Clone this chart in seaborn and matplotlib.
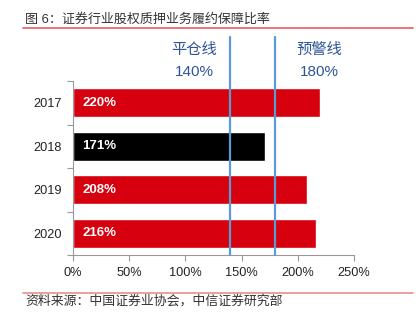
import matplotlib
matplotlib.use("Agg")
import matplotlib.pyplot as plt
import seaborn as sns
import pandas as pd
from matplotlib.lines import Line2D

# Data
years = ["2017", "2018", "2019", "2020"]
ratios = [220, 171, 208, 216]
bar_colors = ["#D7000F", "#000000", "#D7000F", "#D7000F"]
x_ticks = [0, 50, 100, 150, 200, 250]
ref_values = [140, 180]
ref_names = ["平仓线", "预警线"]

sns.set_theme(style="white")
plt.rcParams["font.family"] = ["Liberation Sans", "Noto Sans CJK SC", "DejaVu Sans"]

df = pd.DataFrame({"year": years, "ratio": ratios})

fig = plt.figure(figsize=(4.16, 3.22), dpi=100)
ax = fig.add_axes([73 / 416, 1 - 255 / 322, (354 - 73) / 416, (255 - 81) / 322])

sns.barplot(data=df, x="ratio", y="year", hue="year", palette=bar_colors,
            legend=False, width=0.667, ax=ax, orient="h", saturation=1)

ax.set_xlim(0, 250)
ax.set_ylim(len(years) - 0.5, -0.5)
ax.set_xlabel("")
ax.set_ylabel("")

# x axis
ax.set_xticks(x_ticks)
ax.set_xticklabels([f"{v}%" for v in x_ticks], fontsize=9.2, color="#222222")

# y axis: tick marks at category boundaries, labels at centres
ax.set_yticks([i - 0.5 for i in range(len(years) + 1)])
ax.set_yticklabels([])
ax.set_yticks(range(len(years)), minor=True)
ax.set_yticklabels(years, minor=True, fontsize=9.2, color="#222222")
ax.tick_params(axis="y", which="minor", length=0, pad=8)
ax.tick_params(axis="y", which="major", length=4, width=0.8, color="#999999", left=True)
ax.tick_params(axis="x", which="major", length=4, width=0.8, color="#999999", bottom=True, pad=5)

for side in ["top", "right"]:
    ax.spines[side].set_visible(False)
for side in ["left", "bottom"]:
    ax.spines[side].set_color("#999999")
    ax.spines[side].set_linewidth(0.8)

# value labels inside bars
for i, v in enumerate(ratios):
    ax.text(8.5, i, f"{v}%", color="white", fontweight="bold", fontsize=9.5,
            va="center", ha="left")

# reference lines, extending above the plot area
trans = ax.get_xaxis_transform()
for v in ref_values:
    ln = Line2D([v, v], [0, 1 + 44 / 174], transform=trans, color="#5B9BD5",
                linewidth=1.6, clip_on=False, zorder=5)
    ax.add_line(ln)

label_x = [108, 219.5]
for name, v, lx in zip(ref_names, ref_values, label_x):
    ax.text(lx, 1 + 31 / 174, name, transform=trans, ha="center", va="center",
            fontsize=11, color="#2F5597")
    ax.text(lx, 1 + 9 / 174, f"{v}%", transform=trans, ha="center", va="center",
            fontsize=11, color="#2F5597")

# title and source
fig.text(25 / 416, 1 - 19.5 / 322, "图 6：证券行业股权质押业务履约保障比率",
         fontsize=9.4, color="#333333", ha="left", va="center")
fig.add_artist(Line2D([23 / 416, 413 / 416], [1 - 28.3 / 322] * 2,
                      transform=fig.transFigure, color="#E06060", linewidth=1.2))
fig.add_artist(Line2D([23 / 416, 413 / 416], [1 - 293 / 322] * 2,
                      transform=fig.transFigure, color="#E39090", linewidth=1.2))
fig.text(25 / 416, 1 - 301 / 322, "资料来源：中国证券业协会，中信证券研究部",
         fontsize=9.3, color="#333333", ha="left", va="center")

fig.savefig("out.png", dpi=100)
